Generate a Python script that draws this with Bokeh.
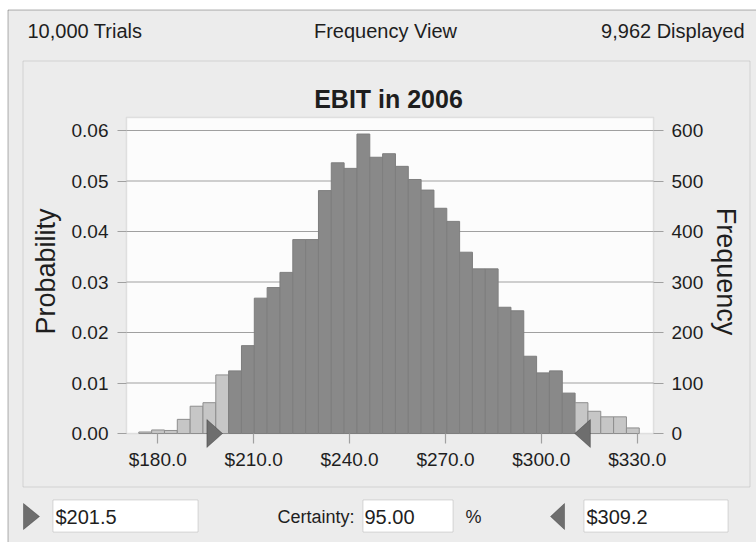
from bokeh.plotting import figure
from bokeh.models import (Range1d, LinearAxis, FixedTicker, PrintfTickFormatter, Label,
                          BoxAnnotation, PolyAnnotation, ColumnDataSource)
from bokeh.embed import file_html
from bokeh.resources import INLINE

# ---------------- data ----------------
trials = 10000
displayed = 9962
chart_title = "EBIT in 2006"
view_name = "Frequency View"
bin_start = 174.06
bin_width = 4.015
frequency = [3, 7, 6, 28, 54, 61, 116, 124, 174, 268, 289, 319, 384, 384, 481,
             536, 525, 593, 547, 554, 529, 503, 482, 446, 420, 359, 326, 326,
             250, 243, 153, 120, 124, 80, 61, 44, 33, 33, 11]
certainty_lower = 201.5
certainty_upper = 309.2
certainty_pct = 95.00
x_ticks = [180, 210, 240, 270, 300, 330]
prob_ticks = [0.00, 0.01, 0.02, 0.03, 0.04, 0.05, 0.06]
freq_ticks = [0, 100, 200, 300, 400, 500, 600]

# ---------------- derived ----------------
n = len(frequency)
lefts = [bin_start + i * bin_width for i in range(n)]
rights = [l + bin_width for l in lefts]
probability = [f / trials for f in frequency]
inside = [certainty_lower <= (l + r) / 2 <= certainty_upper for l, r in zip(lefts, rights)]
fills = ["#898989" if ok else "#c6c6c6" for ok in inside]
edges = ["#7e7e7e" if ok else "#8e8e8e" for ok in inside]
src = ColumnDataSource(dict(left=lefts, right=rights, top=probability,
                            fill=fills, edge=edges))

# ---------------- layout constants (page pixels) ----------------
FONT = "Liberation Sans"
BG = "#ececec"
W, H = 756, 542
PX_PER_X = 3.196            # pixels per $ on the value axis
X_ANCHOR_PX = 157.3         # page x of the first x tick
PX_PER_P = 5050.0           # pixels per unit of probability
BASE_PY = 433.0             # page y of the baseline
PLOT_L, PLOT_R, PLOT_T = 126, 653, 117   # plot area box (page px)


def xd(px):   # page x -> data x
    return x_ticks[0] + (px - X_ANCHOR_PX) / PX_PER_X


def yd(py):   # page y -> probability
    return (BASE_PY - py) / PX_PER_P


p = figure(width=W, height=H, output_backend="svg", toolbar_location=None,
           x_range=Range1d(xd(0), xd(W)), y_range=Range1d(yd(H), yd(0)),
           min_border=0, min_border_left=0, min_border_right=0,
           min_border_top=0, min_border_bottom=0,
           background_fill_color="white", border_fill_color="white",
           outline_line_color=None)
p.extra_y_ranges = {"freq": Range1d(yd(H) * trials, yd(0) * trials)}


# screen units are relative to the frame (= whole canvas), y measured upward
def sx(px):
    return px


def sy(py):
    return H - py


def box(l, t, r, b, fill="white", line="#8a8a8a", width=1):
    p.add_layout(BoxAnnotation(left=sx(l), right=sx(r), top=sy(t), bottom=sy(b),
                               left_units="screen", right_units="screen",
                               top_units="screen", bottom_units="screen",
                               fill_color=fill, fill_alpha=1 if fill else 0,
                               line_color=line, line_width=width, level="underlay"))


# dialog background with black top/left window edge
box(7.5, 9.5, 1000, 1000, fill=BG, line="#000000", width=1)
# inner chart panel
box(22.5, 60.5, 749.5, 486.5, fill=None, line="#9a9a9a", width=1)
# plot area
p.add_layout(BoxAnnotation(left=xd(PLOT_L), right=xd(PLOT_R), bottom=0, top=yd(PLOT_T),
                           fill_color="#fcfcfc", fill_alpha=1, line_color="#b0b0b0",
                           line_width=1.5, level="underlay"))

# horizontal grid lines inside the plot area
p.segment(x0=xd(PLOT_L), x1=xd(PLOT_R), y0=prob_ticks[1:], y1=prob_ticks[1:],
          line_color="#a0a0a0", line_width=1.2)

# bars
p.quad(left="left", right="right", top="top", bottom=0, source=src,
       fill_color="fill", line_color="edge", line_width=1)

# axes, pinned to the plot-area edges
xa = p.xaxis[0]
xa.fixed_location = 0
xa.ticker = FixedTicker(ticks=x_ticks)
xa.formatter = PrintfTickFormatter(format="$%.1f")
ya = p.yaxis[0]
ya.fixed_location = xd(PLOT_L)
ya.ticker = FixedTicker(ticks=prob_ticks)
ya.formatter = PrintfTickFormatter(format="%.2f")
ya.axis_label = "Probability"
ra = LinearAxis(y_range_name="freq", ticker=FixedTicker(ticks=freq_ticks),
                axis_label="Frequency", fixed_location=xd(PLOT_R))
p.add_layout(ra, "right")
p.xgrid.visible = False
p.ygrid.visible = False

for ax in (xa, ya, ra):
    ax.axis_line_color = None
    ax.major_tick_line_color = "#a0a0a0"
    ax.major_tick_line_width = 1.2
    ax.major_tick_in = 0
    ax.minor_tick_line_color = None
    ax.major_label_text_font = FONT
    ax.major_label_text_font_size = "19px"
    ax.major_label_text_color = "#1e1e1e"
    ax.axis_label_text_font = FONT
    ax.axis_label_text_font_size = "27px"
    ax.axis_label_text_font_style = "normal"
    ax.axis_label_text_color = "#1e1e1e"
xa.major_tick_out = 10
xa.major_label_standoff = 5
ya.major_tick_out = 9
ya.major_label_standoff = 9
ya.axis_label_standoff = 8
ra.major_tick_out = 10
ra.major_label_standoff = 8
ra.axis_label_standoff = 5

# certainty grabbers on the baseline
m_off, m_len, m_half = 1.25, 4.9, 14


def grabber(value, direction):
    tip = value + direction * m_off
    base = tip + direction * m_len
    p.add_layout(PolyAnnotation(
        xs=[base, base, tip], ys=[sy(BASE_PY - m_half), sy(BASE_PY + m_half), sy(BASE_PY)],
        xs_units="data", ys_units="screen",
        fill_color="#6e6e6e", fill_alpha=1, line_color="#111111", line_width=1))


grabber(certainty_lower, -1)
grabber(certainty_upper, +1)


def label(text, px, py, size, align="left", bold=False, color="#1e1e1e"):
    p.add_layout(Label(x=sx(px), y=sy(py), x_units="screen", y_units="screen",
                       text=text, text_font=FONT, text_font_size=f"{size}px",
                       text_font_style="bold" if bold else "normal",
                       text_align=align, text_baseline="middle", text_color=color))


def tri(tip_x, base_x, top_y, bot_y):
    mid = (top_y + bot_y) / 2
    p.add_layout(PolyAnnotation(xs=[sx(base_x), sx(base_x), sx(tip_x)],
                                ys=[sy(top_y), sy(bot_y), sy(mid)],
                                xs_units="screen", ys_units="screen",
                                fill_color="#6e6e6e", fill_alpha=1,
                                line_color="#111111", line_width=1))


label(f"{trials:,} Trials", 27, 30, 20)
label(view_name, 385, 30, 20, align="center")
label(f"{displayed:,} Displayed", 744, 30, 20, align="right")
label(chart_title, 388, 98, 25, align="center", bold=True)

# bottom controls
tri(39, 23, 503, 529)
box(52.5, 499.5, 197.5, 531.5)
label(f"${certainty_lower:.1f}", 55, 516, 20)
label("Certainty:", 354, 516, 18, align="right")
box(362.5, 499.5, 452.5, 531.5)
label(f"{certainty_pct:.2f}", 364, 516, 20)
label("%", 465, 516, 18)
tri(550, 564, 503, 529)
box(583.5, 499.5, 727.5, 531.5)
label(f"${certainty_upper:.1f}", 586, 516, 20)

open("out.html", "w").write(file_html(p, INLINE))
